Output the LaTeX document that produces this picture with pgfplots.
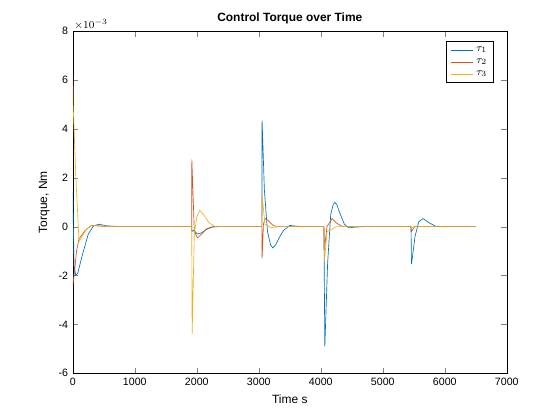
\documentclass[border=0pt]{standalone}
\usepackage{pgfplots}
\pgfplotsset{compat=1.18}
\usepackage{fontspec}
\setmainfont{Liberation Sans}
\definecolor{mb}{RGB}{0,114,189}
\definecolor{mr}{RGB}{217,83,25}
\definecolor{my}{RGB}{237,177,32}
\begin{document}
\begin{tikzpicture}
\path (-54.6bp,-35bp) rectangle (365.4bp,280bp);
\begin{axis}[scale only axis, width=325.5bp, height=256.7bp,
 xmin=0, xmax=7000, ymin=-6, ymax=8,
 xtick={0,1000,...,7000}, ytick={-6,-4,...,8},
 /pgf/number format/assume math mode=true,
 /pgf/number format/1000 sep={},
 tick label style={font=\fontsize{8}{9.5}\selectfont},
 tick align=inside, tick pos=both,
 title={\bfseries Control Torque over Time},
 title style={font=\fontsize{9}{11}\selectfont, yshift=-4pt},
 xlabel={Time s}, ylabel={Torque, Nm},
 label style={font=\fontsize{9}{11}\selectfont},
 legend style={at={(0.97,0.97)}, anchor=north east, font=\fontsize{8.5}{11}\selectfont, cells={anchor=west}},
 legend cell align=left,
 every axis plot/.append style={line width=0.5pt},
 clip=true]
\addplot[mb] coordinates {(0,1.4)(20,-1.6)(48,-2.0)(80,-1.9)(150,-1.2)(250,-0.3)(330,0.02)(420,0.1)(550,0.03)(800,0)(1918,0)(1920,-0.2)(1950,-0.15)(2010,-0.3)(2080,-0.25)(2150,-0.12)(2250,-0.02)(2350,0)(3050,0)(3053,4.35)(3090,1.5)(3140,-0.2)(3190,-0.75)(3225,-0.87)(3270,-0.75)(3330,-0.45)(3400,-0.15)(3500,0.05)(3600,0.02)(3800,0)(4050,0)(4065,-4.9)(4110,-1.5)(4160,0.5)(4200,0.9)(4225,0.99)(4260,0.9)(4300,0.6)(4380,0.1)(4450,-0.05)(4550,-0.02)(4700,0)(5455,0)(5463,-1.53)(5520,-0.4)(5580,0.2)(5650,0.33)(5750,0.15)(5850,0.02)(5950,0)(6500,0)};
\addlegendentry{$\tau_1$}
\addplot[mr] coordinates {(0,-2.4)(30,-1.8)(60,-1.0)(100,-0.5)(200,-0.15)(300,0.05)(400,0.03)(550,0)(1918,0)(1920,2.75)(1960,-0.2)(2011,-0.46)(2080,-0.3)(2150,-0.1)(2250,0)(3050,0)(3053,-1.3)(3075,0.1)(3100,0.33)(3150,0.25)(3230,0.05)(3300,0)(4050,0)(4058,-0.94)(4100,0)(4180,0.33)(4250,0.15)(4350,0)(5455,0)(5460,-0.2)(5520,0.02)(5600,0)(6500,0)};
\addlegendentry{$\tau_2$}
\addplot[my] coordinates {(0,6.2)(5,5)(50,2)(100,-0.6)(150,-0.4)(220,-0.1)(300,0.05)(400,0.05)(550,0)(1918,0)(1925,-4.4)(1960,-0.3)(2000,0.4)(2048,0.67)(2120,0.45)(2200,0.15)(2300,0)(3050,0)(3053,1.27)(3100,0.1)(3200,-0.05)(3300,0)(4050,0)(4060,-1.4)(4100,-0.2)(4150,-0.15)(4250,0)(5455,0)(5460,-0.05)(5500,0)(6500,0)};
\addlegendentry{$\tau_3$}
\end{axis}
\node[anchor=south west, font=\fontsize{8}{9.5}\selectfont, inner sep=1pt] at (0,256.7bp) {$\times 10^{-3}$};
\end{tikzpicture}
\end{document}
